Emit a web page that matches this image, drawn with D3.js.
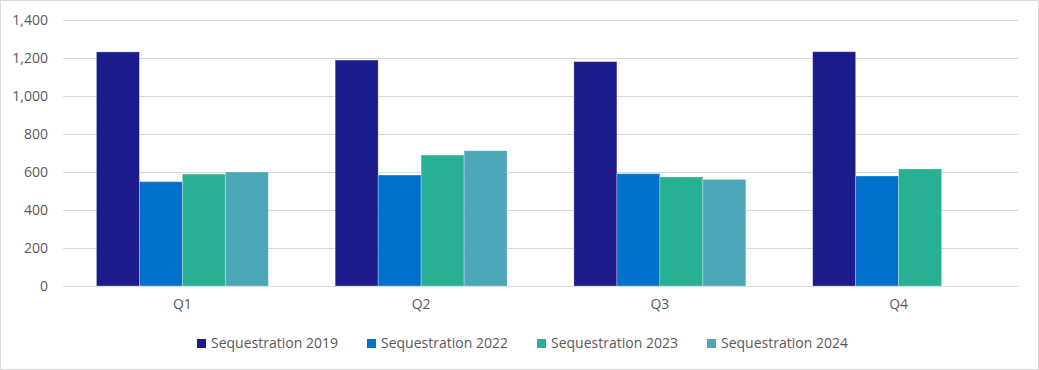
<!DOCTYPE html>
<html>
<head>
<meta charset="utf-8">
<script src="https://cdn.jsdelivr.net/npm/d3@7"></script>
<style>
  body { margin: 0; background: #fff; }
  svg text { font-family: "Open Sans", "Noto Sans", sans-serif; fill: #595959; }
</style>
</head>
<body>
<svg id="canvas" width="1039" height="370"></svg>
<script>
let quarters = ['Q1', 'Q2', 'Q3', 'Q4']
let seriesNames = ['Sequestration 2019', 'Sequestration 2022', 'Sequestration 2023', 'Sequestration 2024']
let seq2019 = [1232, 1189, 1181, 1233]
let seq2022 = [549, 584, 591, 579]
let seq2023 = [589, 689, 574, 616]
let seq2024 = [600, 712, 561, null]
let colors = ['#1b1b8b', '#0072cc', '#27b093', '#4ba6b8']
let yTicks = [0, 200, 400, 600, 800, 1000, 1200, 1400]

let allSeries = [seq2019, seq2022, seq2023, seq2024]
let canvas = d3.select('#canvas')

let drawChart = () => {
  let margin = {top: 20, right: 21, bottom: 84, left: 63}
  let width = 1039, height = 370

  // outer frame
  canvas.append('rect')
    .attr('x', 0.5).attr('y', 0.5)
    .attr('width', width - 1).attr('height', height - 1)
    .attr('fill', 'none').attr('stroke', '#d9d9d9')

  let y = d3.scaleLinear()
    .domain([0, 1400])
    .range([height - margin.bottom, margin.top])

  let x0 = d3.scaleBand()
    .domain(quarters)
    .range([margin.left, width - margin.right])
    .padding(0)

  let gap = x0.bandwidth() * 0.14
  let x1 = d3.scaleBand()
    .domain(seriesNames)
    .range([gap, x0.bandwidth() - gap])
    .padding(0)

  // gridlines
  canvas.append('g')
    .selectAll('line')
    .data(yTicks)
    .enter()
    .append('line')
    .attr('x1', margin.left)
    .attr('x2', width - margin.right)
    .attr('y1', d => Math.round(y(d)) + 0.5)
    .attr('y2', d => Math.round(y(d)) + 0.5)
    .attr('stroke', '#d9d9d9')
    .attr('stroke-width', 1)

  // y axis labels
  let yAxis = d3.axisLeft(y).tickValues(yTicks).tickSize(0).tickPadding(0)
    .tickFormat(d3.format(','))
  let yg = canvas.append('g')
    .attr('transform', 'translate(' + (margin.left - 15) + ',0)')
    .call(yAxis)
  yg.select('.domain').remove()
  yg.selectAll('text').style('font-size', '14px').attr('fill', '#595959')

  // bars
  let groups = canvas.append('g')
    .selectAll('g')
    .data(quarters)
    .enter()
    .append('g')
    .attr('transform', q => 'translate(' + x0(q) + ',0)')

  groups.selectAll('rect')
    .data((q, i) => seriesNames.map((s, j) => ({series: s, value: allSeries[j][i], color: colors[j]})))
    .enter()
    .filter(d => d.value != null)
    .append('rect')
    .attr('x', d => x1(d.series))
    .attr('width', x1.bandwidth())
    .attr('y', d => y(d.value))
    .attr('height', d => y(0) - y(d.value))
    .attr('fill', d => d.color)
    .attr('stroke', 'rgba(255,255,255,0.35)')
    .attr('stroke-width', 0.8)

  // x axis labels
  let xAxis = d3.axisBottom(x0).tickSize(0).tickPadding(0)
  let xg = canvas.append('g')
    .attr('transform', 'translate(0,' + (y(0) + 13) + ')')
    .call(xAxis)
  xg.select('.domain').remove()
  xg.selectAll('text').style('font-size', '14px').attr('fill', '#595959')

  // legend
  let legendX = [197, 367, 537, 707]
  let legend = canvas.append('g')
    .selectAll('g')
    .data(seriesNames)
    .enter()
    .append('g')
    .attr('transform', (d, i) => 'translate(' + legendX[i] + ',343.5)')
  legend.append('rect')
    .attr('x', 0).attr('y', -4.5)
    .attr('width', 9).attr('height', 9)
    .attr('fill', (d, i) => colors[i])
  legend.append('text')
    .attr('x', 14)
    .attr('y', 0)
    .attr('dy', '0.35em')
    .style('font-size', '14px')
    .attr('fill', '#595959')
    .text(d => d)
}

drawChart()
</script>
</body>
</html>
